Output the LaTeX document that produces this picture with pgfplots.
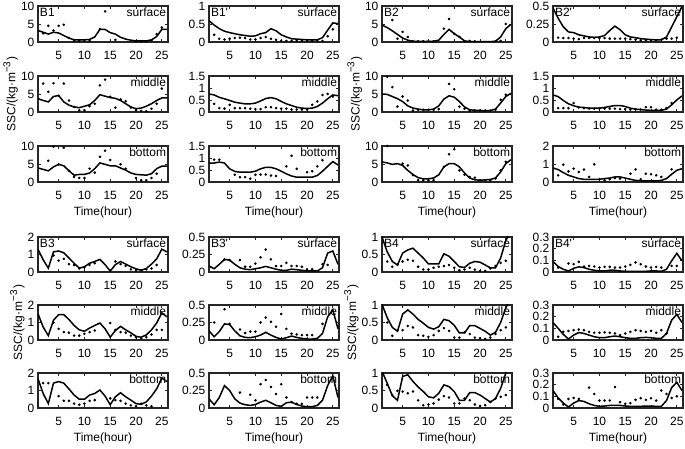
\documentclass[border=0pt]{standalone}
\usepackage{fontspec}
\setmainfont{Liberation Sans}
\usepackage{pgfplots}
\pgfplotsset{compat=1.18}
\newcommand{\fs}{\fontsize{6}{7}\selectfont}
\newcommand{\pr}{\textquotesingle}
\pgfplotsset{
  panel/.style={
    scale only axis, width=65pt, height=18pt, anchor=south west,
    xmin=1, xmax=26.2, ymin=0,
    xtick={5,10,15,20,25}, xticklabels={5,10,15,20,25},
    tick align=inside, major tick length=1.3pt,
    axis line style={line width=0.6pt, black!85},
    every tick/.style={black!85, line width=0.4pt},
    tick label style={font=\fs},
    xticklabel style={yshift=-1.2pt},
    yticklabel style={inner sep=1pt, xshift=-0.6pt},
    label style={font=\fs},
    xlabel style={yshift=3.5pt},
    ylabel shift=-3pt,
    clip=true,
  },
  ln/.style={black, line width=0.75pt, no marks},
  dt/.style={black, only marks, mark=*, mark size=0.42pt},
}
% #1 extra opts, #2 x, #3 y, #4 ymax, #5 ticks, #6 left title, #7 right title, #8 line, #9 dots
\newcommand{\panel}[9][]{%
\begin{axis}[panel, at={(#2,#3)}, ymax=#4, ytick={#5}, yticklabels={#5}, #1]
\addplot[ln] coordinates {#8};
\addplot[dt] coordinates {#9};
\node[anchor=north west, inner sep=0.8pt, font=\fs] at (rel axis cs:0,1) {#6};
\node[anchor=north east, inner sep=0.8pt, font=\fs] at (rel axis cs:1,1) {#7};
\end{axis}}
\begin{document}
\begin{tikzpicture}
\useasboundingbox (0,0) rectangle (342.5pt,224.5pt);
% ---------------- column 1 : B1 ----------------
\panel{19pt}{203.5pt}{10}{0,5,10}{B1}{surface}
{(1,3.2)(2,2.7)(3,2.2)(4,2.7)(5,2.5)(6,1.8)(7,1.1)(8,0.6)(9,0.6)(10,0.6)(11,0.7)(12,1.4)(13,3.5)(14,3.5)(15,2.6)(16,2.2)(17,1.3)(18,0.8)(19,0.5)(20,0.3)(21,0.3)(22,0.3)(23,0.6)(24,1.5)(25,3.5)(26,3.5)}
{(2,2.4)(3,4.5)(4,3.2)(5,4.5)(6,4.8)(7,1.1)(8,0.3)(9,0.3)(10,0.3)(11,0.3)(13,3.6)(14,8.5)(16,0.6)(20,0.2)(21,0.1)(22,0.2)(23,0.5)(24,2.2)(25,4.0)}
\panel[ylabel={SSC/(kg·m\textsuperscript{−3})}]{19pt}{168.5pt}{10}{0,5,10}{}{middle}
{(1,3.7)(2,3.2)(3,2.8)(4,4.3)(5,4.6)(6,2.8)(7,1.9)(8,1.4)(9,1.2)(10,1.6)(11,2.0)(12,3.2)(13,4.8)(14,4.4)(15,4.0)(16,3.8)(17,3.2)(18,2.3)(19,1.4)(20,0.9)(21,1.1)(22,1.6)(23,2.3)(24,3.2)(25,3.9)(26,3.9)}
{(2,7.9)(3,5.6)(4,8.0)(5,4.5)(6,7.9)(7,3.2)(8,1.4)(9,0.5)(10,0.5)(11,1.6)(12,2.3)(13,7.4)(14,9.0)(15,4.2)(16,1.2)(17,3.5)(18,3.0)(19,1.2)(20,0.5)(21,0.3)(22,0.2)(23,0.9)(24,2.3)(25,6.5)}
\panel[xlabel={Time(hour)}]{19pt}{133.5pt}{10}{0,5,10}{}{bottom}
{(1,3.9)(2,3.5)(3,3.1)(4,4.2)(5,4.9)(6,4.5)(7,3.1)(8,1.9)(9,2.1)(10,2.1)(11,2.5)(12,3.7)(13,5.3)(14,4.9)(15,4.5)(16,4.5)(17,3.9)(18,3.3)(19,2.5)(20,2.1)(21,2.0)(22,1.9)(23,2.3)(24,3.7)(25,4.4)(26,4.4)}
{(3,5.9)(4,9.8)(5,4.9)(6,9.5)(7,3.1)(8,1.4)(9,1.1)(10,1.1)(11,3.7)(12,2.6)(13,7.0)(14,8.7)(15,6.1)(17,4.9)(18,3.7)(20,1.1)(21,0.5)(22,0.5)(23,1.1)(24,2.3)}
% ---------------- column 2 : B1' ----------------
\panel{104.5pt}{203.5pt}{1}{0,0.5,1}{B1\pr}{surface}
{(1,0.59)(2,0.47)(3,0.37)(4,0.30)(5,0.26)(6,0.23)(7,0.20)(8,0.18)(9,0.16)(10,0.17)(11,0.23)(12,0.26)(13,0.37)(14,0.31)(15,0.20)(16,0.14)(17,0.09)(18,0.08)(19,0.07)(20,0.06)(21,0.06)(22,0.06)(23,0.12)(24,0.33)(25,0.53)(26,0.51)}
{(2,0.20)(3,0.09)(4,0.07)(5,0.09)(6,0.11)(7,0.12)(8,0.11)(9,0.07)(10,0.07)(11,0.11)(12,0.14)(13,0.09)(14,0.06)(15,0.03)(16,0.03)(17,0.03)(18,0.03)(19,0.03)(20,0.03)(21,0.03)(22,0.03)(23,0.03)(24,0.16)(25,0.35)}
\panel{104.5pt}{168.5pt}{1.5}{0,0.5,1,1.5}{}{middle}
{(1,0.75)(2,0.71)(3,0.61)(4,0.55)(5,0.48)(6,0.41)(7,0.37)(8,0.34)(9,0.34)(10,0.37)(11,0.46)(12,0.56)(13,0.60)(14,0.55)(15,0.44)(16,0.34)(17,0.27)(18,0.20)(19,0.16)(20,0.15)(21,0.16)(22,0.23)(23,0.37)(24,0.55)(25,0.71)(26,0.68)}
{(2,0.34)(3,0.16)(4,0.14)(5,0.30)(6,0.16)(7,0.16)(8,0.16)(9,0.14)(10,0.12)(11,0.12)(12,0.20)(13,0.20)(14,0.16)(15,0.14)(16,0.14)(17,0.10)(18,0.10)(19,0.10)(20,0.10)(21,0.30)(22,0.44)(23,0.71)(24,0.75)(25,0.64)}
\panel[xlabel={Time(hour)}]{104.5pt}{133.5pt}{1.5}{0,0.5,1,1.5}{}{bottom}
{(1,0.79)(2,0.79)(3,0.83)(4,0.79)(5,0.55)(6,0.44)(7,0.41)(8,0.41)(9,0.41)(10,0.45)(11,0.55)(12,0.61)(13,0.61)(14,0.55)(15,0.45)(16,0.34)(17,0.25)(18,0.20)(19,0.20)(20,0.20)(21,0.20)(22,0.27)(23,0.45)(24,0.65)(25,0.85)(26,0.71)}
{(2,0.93)(3,0.93)(6,0.30)(7,0.20)(8,0.20)(9,0.14)(10,0.30)(11,0.31)(12,0.31)(13,0.27)(14,0.25)(16,0.65)(17,1.09)(18,0.55)(20,0.41)(21,0.45)(22,0.65)(23,0.91)}
% ---------------- column 3 : B2 ----------------
\panel{191pt}{203.5pt}{10}{0,5,10}{B2}{surface}
{(1,4.7)(2,4.0)(3,3.1)(4,2.1)(5,1.1)(6,0.5)(7,0.2)(8,0.2)(9,0.2)(10,0.2)(11,0.2)(12,0.5)(13,2.1)(14,3.5)(15,2.3)(16,1.4)(17,0.3)(18,0.1)(19,0.1)(20,0.1)(21,0.1)(22,0.1)(23,0.2)(24,1.4)(25,3.7)(26,4.9)}
{(3,6.1)(4,0.9)(5,2.8)(6,1.4)(7,0.2)(8,0.2)(9,0.2)(10,0.2)(11,0.2)(13,3.7)(14,6.4)(15,2.3)(16,1.4)(17,0.2)(18,0.3)(19,0.2)(23,0.2)(24,0.3)(25,5.0)}
\panel[ylabel={SSC/(kg·m\textsuperscript{−3})}]{191pt}{168.5pt}{10}{0,5,10}{}{middle}
{(1,5.0)(2,4.9)(3,4.3)(4,3.7)(5,2.9)(6,1.7)(7,1.1)(8,0.8)(9,0.6)(10,0.6)(11,0.8)(12,1.7)(13,3.6)(14,4.5)(15,4.1)(16,2.9)(17,1.4)(18,0.6)(19,0.5)(20,0.4)(21,0.4)(22,0.4)(23,0.8)(24,2.5)(25,4.3)(26,5.2)}
{(2,9.8)(3,6.9)(4,1.5)(5,4.3)(6,3.2)(7,0.4)(8,0.6)(9,0.6)(10,0.6)(11,0.6)(12,0.8)(14,7.8)(15,6.3)(16,1.5)(17,0.9)(18,0.4)(19,0.4)(20,0.4)(21,0.4)(22,0.4)(23,0.6)(24,3.4)(25,4.8)}
\panel[xlabel={Time(hour)}]{191pt}{133.5pt}{10}{0,5,10}{}{bottom}
{(1,5.6)(2,5.3)(3,4.9)(4,5.1)(5,4.6)(6,3.2)(7,2.1)(8,1.2)(9,0.9)(10,0.9)(11,1.1)(12,2.0)(13,4.2)(14,5.1)(15,5.1)(16,4.2)(17,2.5)(18,1.1)(19,0.6)(20,0.5)(21,0.6)(22,0.7)(23,1.1)(24,2.8)(25,5.1)(26,6.2)}
{(2,10)(5,5.1)(6,4.6)(7,1.9)(8,0.5)(9,0.5)(10,0.5)(11,0.5)(13,4.2)(14,7.7)(15,9.1)(16,3.2)(17,2.0)(18,1.4)(19,1.2)(20,0.5)(21,0.5)(22,0.5)(23,1.0)(24,3.2)(25,5.6)}
% ---------------- column 4 : B2' ----------------
\panel{276.5pt}{203.5pt}{0.5}{0,0.25,0.5}{B2\pr}{surface}
{(1,0.47)(2,0.33)(3,0.21)(4,0.14)(5,0.13)(6,0.10)(7,0.085)(8,0.07)(9,0.065)(10,0.07)(11,0.09)(12,0.16)(13,0.22)(14,0.17)(15,0.10)(16,0.07)(17,0.06)(18,0.047)(19,0.04)(20,0.033)(21,0.03)(22,0.03)(23,0.07)(24,0.21)(25,0.35)(26,0.49)}
{(2,0.06)(3,0.055)(4,0.055)(5,0.047)(6,0.04)(7,0.055)(8,0.055)(9,0.055)(10,0.055)(11,0.055)(12,0.047)(13,0.047)(14,0.047)(15,0.047)(16,0.04)(17,0.033)(18,0.025)(19,0.025)(20,0.025)(21,0.025)(22,0.033)(23,0.047)(24,0.047)(25,0.06)}
\panel{276.5pt}{168.5pt}{1.5}{0,0.5,1,1.5}{}{middle}
{(1,0.71)(2,0.64)(3,0.48)(4,0.34)(5,0.26)(6,0.20)(7,0.19)(8,0.16)(9,0.16)(10,0.16)(11,0.19)(12,0.23)(13,0.27)(14,0.27)(15,0.23)(16,0.16)(17,0.12)(18,0.10)(19,0.08)(20,0.07)(21,0.07)(22,0.07)(23,0.12)(24,0.30)(25,0.50)(26,0.67)}
{(2,0.16)(3,0.16)(4,0.16)(5,0.37)(6,0.19)(7,0.16)(8,0.14)(9,0.14)(10,0.14)(11,0.14)(12,0.14)(13,0.14)(14,0.12)(15,0.12)(16,0.10)(17,0.10)(18,0.10)(19,0.20)(20,0.20)(21,0.10)(22,0.10)(23,0.16)(24,0.37)}
\panel[xlabel={Time(hour)}]{276.5pt}{133.5pt}{2}{0,1,2}{}{bottom}
{(1,0.78)(2,0.69)(3,0.52)(4,0.37)(5,0.28)(6,0.19)(7,0.15)(8,0.15)(9,0.15)(10,0.15)(11,0.19)(12,0.22)(13,0.28)(14,0.28)(15,0.22)(16,0.15)(17,0.09)(18,0.07)(19,0.06)(20,0.06)(21,0.06)(22,0.09)(23,0.19)(24,0.43)(25,0.65)(26,0.74)}
{(2,0.37)(3,0.96)(4,0.59)(5,0.74)(6,0.56)(7,0.69)(8,0.28)(9,0.98)(10,0.15)(11,0.09)(12,0.15)(13,0.22)(14,0.19)(16,0.46)(17,0.70)(18,0.15)(19,0.46)(20,0.43)(21,0.37)(22,0.28)(24,0.70)}
% ================= lower block =================
\pgfplotsset{panel/.append style={height=17.5pt}}
% ---------------- column 1 : B3 ----------------
\panel{19pt}{88.5pt}{2}{0,1,2}{B3}{surface}
{(1,1.3)(2,0.7)(3,0.22)(4,1.15)(5,1.2)(6,1.1)(7,0.8)(8,0.5)(9,0.22)(10,0.3)(11,0.5)(12,0.6)(13,0.72)(14,0.42)(15,0.05)(16,0.42)(17,0.6)(18,0.45)(19,0.3)(20,0.18)(21,0.1)(22,0.2)(23,0.45)(24,0.75)(25,1.3)(26,1.15)}
{(4,0.95)(5,0.65)(6,0.75)(7,0.45)(8,0.4)(9,0.2)(10,0.25)(11,0.4)(12,0.5)(16,0.6)(17,0.45)(18,0.35)(19,0.15)(20,0.1)(21,0.1)(22,0.15)(23,0.2)(24,0.4)}
\panel[ylabel={SSC/(kg·m\textsuperscript{−3})}]{19pt}{54.5pt}{2}{0,1,2}{}{middle}
{(1,1.5)(2,0.74)(3,0.25)(4,1.13)(5,1.45)(6,1.45)(7,1.17)(8,0.83)(9,0.58)(10,0.5)(11,0.68)(12,0.83)(13,0.97)(14,0.64)(15,0.16)(16,0.54)(17,0.78)(18,0.58)(19,0.41)(20,0.21)(21,0.16)(22,0.29)(23,0.58)(24,0.97)(25,1.55)(26,1.32)}
{(4,1.0)(5,0.64)(6,0.45)(7,0.42)(8,0.25)(9,0.25)(10,0.35)(11,0.45)(12,0.54)(15,0.97)(16,0.58)(17,0.45)(18,0.42)(19,0.25)(20,0.16)(21,0.1)(22,0.16)(23,0.31)(24,0.58)(25,0.58)}
\panel[xlabel={Time(hour)}]{19pt}{20.5pt}{2}{0,1,2}{}{bottom}
{(1,1.67)(2,0.83)(3,0.25)(4,1.42)(5,1.51)(6,1.42)(7,1.09)(8,0.74)(9,0.5)(10,0.5)(11,0.74)(12,0.83)(13,1.03)(14,0.68)(15,0.19)(16,0.64)(17,0.87)(18,0.64)(19,0.45)(20,0.25)(21,0.21)(22,0.35)(23,0.68)(24,1.09)(25,1.71)(26,1.51)}
{(2,1.42)(3,1.42)(5,0.68)(6,0.41)(7,0.41)(8,0.25)(9,0.19)(10,0.25)(11,0.41)(12,0.45)(15,0.55)(16,0.45)(17,0.41)(18,0.25)(19,0.15)(20,0.1)(21,0.25)(22,0.15)(23,0.1)}
% ---------------- column 2 : B3' ----------------
\panel{104.5pt}{88.5pt}{0.5}{0,0.25,0.5}{B3\pr}{surface}
{(1,0.085)(2,0.047)(3,0.11)(4,0.18)(5,0.17)(6,0.11)(7,0.06)(8,0.04)(9,0.033)(10,0.047)(11,0.06)(12,0.08)(13,0.06)(14,0.04)(15,0.024)(16,0.024)(17,0.04)(18,0.033)(19,0.024)(20,0.015)(21,0.015)(22,0.015)(23,0.06)(24,0.27)(25,0.30)(26,0.11)}
{(4,0.18)(5,0.17)(7,0.17)(8,0.075)(9,0.075)(10,0.12)(11,0.21)(12,0.32)(13,0.18)(14,0.085)(15,0.085)(16,0.13)(17,0.085)(18,0.085)(19,0.075)(20,0.04)(21,0.04)(23,0.11)(24,0.1)}
\panel{104.5pt}{54.5pt}{0.5}{0,0.25,0.5}{}{middle}
{(1,0.13)(2,0.047)(3,0.12)(4,0.23)(5,0.22)(6,0.13)(7,0.06)(8,0.037)(9,0.033)(10,0.047)(11,0.07)(12,0.11)(13,0.07)(14,0.037)(15,0.014)(16,0.033)(17,0.056)(18,0.037)(19,0.023)(20,0.014)(21,0.014)(22,0.023)(23,0.093)(24,0.33)(25,0.43)(26,0.16)}
{(2,0.25)(4,0.44)(5,0.23)(7,0.15)(8,0.1)(9,0.12)(10,0.12)(11,0.25)(12,0.32)(13,0.26)(14,0.19)(15,0.37)(16,0.16)(17,0.09)(18,0.08)(19,0.07)(20,0.07)(21,0.07)(23,0.23)}
\panel[xlabel={Time(hour)}]{104.5pt}{20.5pt}{0.5}{0,0.25,0.5}{}{bottom}
{(1,0.13)(2,0.047)(3,0.15)(4,0.32)(5,0.25)(6,0.13)(7,0.07)(8,0.047)(9,0.037)(10,0.05)(11,0.084)(12,0.11)(13,0.075)(14,0.037)(15,0.023)(16,0.075)(17,0.084)(18,0.05)(19,0.028)(20,0.018)(21,0.018)(22,0.037)(23,0.11)(24,0.32)(25,0.46)(26,0.15)}
{(7,0.22)(9,0.19)(10,0.11)(11,0.34)(12,0.4)(13,0.3)(14,0.2)(15,0.34)(16,0.15)(17,0.084)(18,0.06)(19,0.06)(20,0.15)(21,0.15)(22,0.15)}
% ---------------- column 3 : B4 ----------------
\panel{191pt}{88.5pt}{1}{0,0.5,1}{B4}{surface}
{(1,1.0)(2,0.58)(3,0.3)(4,0.2)(5,0.54)(6,0.63)(7,0.68)(8,0.54)(9,0.4)(10,0.23)(11,0.23)(12,0.23)(13,0.52)(14,0.45)(15,0.3)(16,0.15)(17,0.13)(18,0.25)(19,0.3)(20,0.28)(21,0.2)(22,0.12)(23,0.12)(24,0.4)(25,0.9)(26,1.2)}
{(2,0.3)(3,0.15)(4,0.21)(5,0.3)(6,0.35)(7,0.32)(8,0.15)(9,0.07)(10,0.07)(11,0.12)(12,0.15)(13,0.17)(14,0.2)(15,0.12)(16,0.05)(17,0.07)(18,0.12)(19,0.07)(20,0.03)(21,0.03)(22,0.1)(23,0.17)(24,0.26)(25,0.32)}
\panel[ylabel={SSC/(kg·m\textsuperscript{−3})}]{191pt}{54.5pt}{1}{0,0.5,1}{}{middle}
{(1,1.02)(2,0.64)(3,0.36)(4,0.25)(5,0.74)(6,0.86)(7,0.74)(8,0.59)(9,0.48)(10,0.36)(11,0.31)(12,0.38)(13,0.59)(14,0.55)(15,0.42)(16,0.2)(17,0.2)(18,0.41)(19,0.41)(20,0.33)(21,0.25)(22,0.14)(23,0.22)(24,0.5)(25,0.92)(26,1.2)}
{(2,0.5)(3,0.12)(4,0.28)(5,0.28)(6,0.4)(7,0.36)(8,0.14)(9,0.12)(10,0.09)(11,0.14)(12,0.26)(13,0.34)(14,0.26)(15,0.07)(16,0.07)(17,0.22)(18,0.17)(19,0.07)(20,0.05)(21,0.03)(22,0.07)(23,0.17)(24,0.28)(25,0.36)}
\panel[xlabel={Time(hour)}]{191pt}{20.5pt}{1}{0,0.5,1}{}{bottom}
{(1,1.05)(2,0.71)(3,0.35)(4,0.22)(5,0.9)(6,0.95)(7,0.76)(8,0.6)(9,0.47)(10,0.32)(11,0.29)(12,0.42)(13,0.66)(14,0.61)(15,0.47)(16,0.22)(17,0.22)(18,0.44)(19,0.44)(20,0.37)(21,0.27)(22,0.17)(23,0.27)(24,0.56)(25,1.0)(26,1.3)}
{(2,0.66)(3,0.37)(4,0.49)(5,0.47)(6,0.42)(7,0.47)(8,0.22)(9,0.08)(10,0.1)(11,0.13)(12,0.24)(13,0.34)(14,0.3)(15,0.13)(16,0.13)(17,0.27)(18,0.22)(19,0.1)(20,0.06)(21,0.08)(22,0.17)(23,0.27)(24,0.32)(25,0.37)}
% ---------------- column 4 : B4' ----------------
\panel{276.5pt}{88.5pt}{0.3}{0,0.1,0.2,0.3}{B4\pr}{surface}
{(1,0.09)(2,0.047)(3,0.023)(4,0.009)(5,0.032)(6,0.044)(7,0.038)(8,0.023)(9,0.015)(10,0.009)(11,0.009)(12,0.015)(13,0.015)(14,0.009)(15,0.006)(16,0.006)(17,0.006)(18,0.006)(19,0.006)(20,0.009)(21,0.009)(22,0.006)(23,0.023)(24,0.096)(25,0.16)(26,0.096)}
{(2,0.038)(4,0.073)(5,0.067)(6,0.087)(7,0.047)(8,0.052)(9,0.047)(10,0.038)(11,0.044)(12,0.044)(13,0.038)(14,0.038)(15,0.047)(16,0.061)(17,0.082)(18,0.067)(19,0.047)(20,0.038)(21,0.044)(22,0.038)(24,0.052)(25,0.052)}
\panel{276.5pt}{54.5pt}{0.3}{0,0.1,0.2,0.3}{}{middle}
{(1,0.15)(2,0.10)(3,0.048)(4,0.008)(5,0.042)(6,0.064)(7,0.056)(8,0.042)(9,0.028)(10,0.02)(11,0.02)(12,0.028)(13,0.034)(14,0.028)(15,0.02)(16,0.014)(17,0.014)(18,0.02)(19,0.022)(20,0.02)(21,0.014)(22,0.014)(23,0.056)(24,0.17)(25,0.22)(26,0.15)}
{(2,0.028)(3,0.07)(4,0.078)(5,0.084)(6,0.09)(7,0.084)(8,0.07)(9,0.062)(10,0.062)(11,0.065)(12,0.062)(13,0.056)(14,0.042)(15,0.056)(16,0.07)(17,0.084)(18,0.078)(19,0.07)(20,0.078)(21,0.062)(22,0.084)(23,0.056)}
\panel[xlabel={Time(hour)}]{276.5pt}{20.5pt}{0.3}{0,0.1,0.2,0.3}{}{bottom}
{(1,0.15)(2,0.086)(3,0.042)(4,0.008)(5,0.042)(6,0.064)(7,0.056)(8,0.036)(9,0.022)(10,0.014)(11,0.017)(12,0.022)(13,0.022)(14,0.022)(15,0.017)(16,0.014)(17,0.014)(18,0.014)(19,0.017)(20,0.017)(21,0.014)(22,0.014)(23,0.064)(24,0.175)(25,0.22)(26,0.15)}
{(2,0.078)(3,0.03)(4,0.078)(5,0.086)(6,0.078)(8,0.175)(9,0.12)(10,0.064)(11,0.064)(12,0.064)(13,0.18)(14,0.05)(15,0.036)(16,0.042)(17,0.07)(18,0.084)(19,0.07)(20,0.084)(21,0.064)(22,0.15)(23,0.12)(24,0.086)(25,0.1)}
\end{tikzpicture}
\end{document}
